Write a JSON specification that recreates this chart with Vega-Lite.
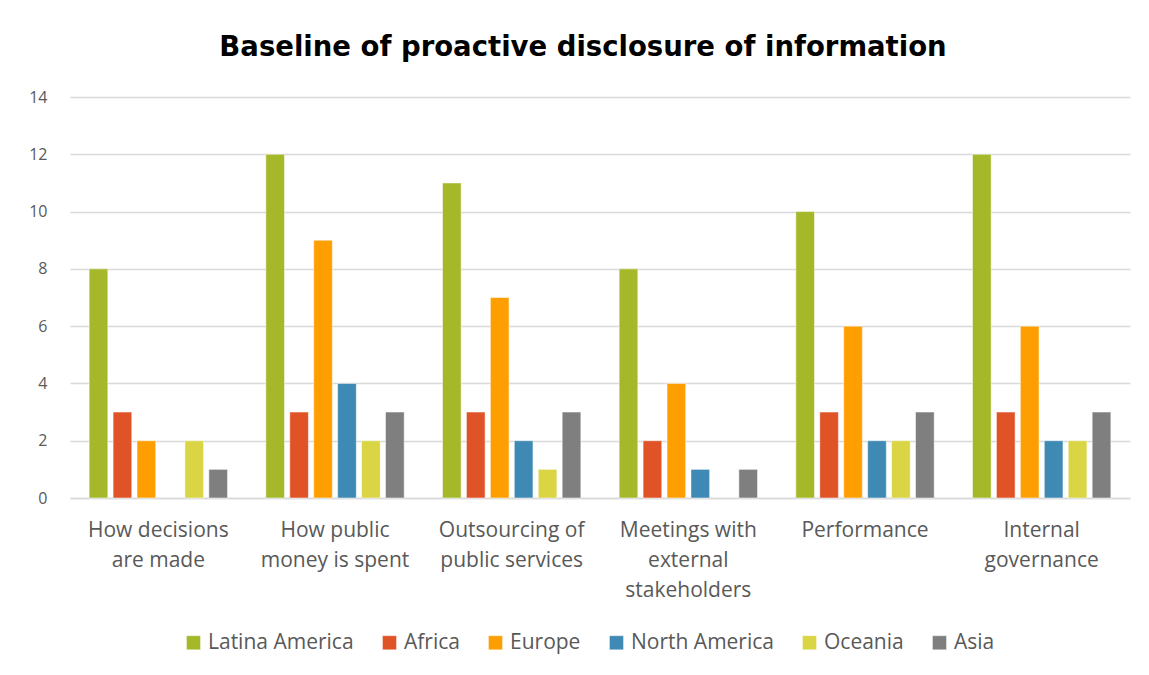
{
  "$schema": "https://vega.github.io/schema/vega-lite/v6.json",
  "autosize": "none",
  "width": 1060,
  "height": 401,
  "padding": {"left": 70, "top": 97, "right": 19, "bottom": 177},
  "background": "white",
  "title": {
    "text": "Baseline of proactive disclosure of information",
    "font": "DejaVu Sans",
    "fontWeight": "bold",
    "fontSize": 27.5,
    "color": "#000000",
    "anchor": "middle",
    "dx": -17,
    "offset": 28
  },
  "data": {
    "values": [
      {"category": "How decisions are made", "region": "Latina America", "value": 8},
      {"category": "How decisions are made", "region": "Africa", "value": 3},
      {"category": "How decisions are made", "region": "Europe", "value": 2},
      {"category": "How decisions are made", "region": "Oceania", "value": 2},
      {"category": "How decisions are made", "region": "Asia", "value": 1},
      {"category": "How public money is spent", "region": "Latina America", "value": 12},
      {"category": "How public money is spent", "region": "Africa", "value": 3},
      {"category": "How public money is spent", "region": "Europe", "value": 9},
      {"category": "How public money is spent", "region": "North America", "value": 4},
      {"category": "How public money is spent", "region": "Oceania", "value": 2},
      {"category": "How public money is spent", "region": "Asia", "value": 3},
      {"category": "Outsourcing of public services", "region": "Latina America", "value": 11},
      {"category": "Outsourcing of public services", "region": "Africa", "value": 3},
      {"category": "Outsourcing of public services", "region": "Europe", "value": 7},
      {"category": "Outsourcing of public services", "region": "North America", "value": 2},
      {"category": "Outsourcing of public services", "region": "Oceania", "value": 1},
      {"category": "Outsourcing of public services", "region": "Asia", "value": 3},
      {"category": "Meetings with external stakeholders", "region": "Latina America", "value": 8},
      {"category": "Meetings with external stakeholders", "region": "Africa", "value": 2},
      {"category": "Meetings with external stakeholders", "region": "Europe", "value": 4},
      {"category": "Meetings with external stakeholders", "region": "North America", "value": 1},
      {"category": "Meetings with external stakeholders", "region": "Asia", "value": 1},
      {"category": "Performance", "region": "Latina America", "value": 10},
      {"category": "Performance", "region": "Africa", "value": 3},
      {"category": "Performance", "region": "Europe", "value": 6},
      {"category": "Performance", "region": "North America", "value": 2},
      {"category": "Performance", "region": "Oceania", "value": 2},
      {"category": "Performance", "region": "Asia", "value": 3},
      {"category": "Internal governance", "region": "Latina America", "value": 12},
      {"category": "Internal governance", "region": "Africa", "value": 3},
      {"category": "Internal governance", "region": "Europe", "value": 6},
      {"category": "Internal governance", "region": "North America", "value": 2},
      {"category": "Internal governance", "region": "Oceania", "value": 2},
      {"category": "Internal governance", "region": "Asia", "value": 3}
    ]
  },
  "mark": {"type": "bar"},
  "encoding": {
    "x": {
      "field": "category",
      "type": "nominal",
      "sort": ["How decisions are made", "How public money is spent", "Outsourcing of public services", "Meetings with external stakeholders", "Performance", "Internal governance"],
      "scale": {"paddingInner": 0, "paddingOuter": 0},
      "axis": {
        "title": null,
        "labelAngle": 0,
        "domain": true,
        "domainColor": "#D9D9D9",
        "domainWidth": 1.5,
        "ticks": false,
        "labelFont": "Open Sans",
        "labelFontSize": 21,
        "labelColor": "#595959",
        "labelPadding": 21,
        "labelLineHeight": 30,
        "labelBaseline": "top",
        "labelExpr": "datum.value == 'How decisions are made' ? ['How decisions', 'are made'] : datum.value == 'How public money is spent' ? ['How public', 'money is spent'] : datum.value == 'Outsourcing of public services' ? ['Outsourcing of', 'public services'] : datum.value == 'Meetings with external stakeholders' ? ['Meetings with', 'external', 'stakeholders'] : datum.value == 'Internal governance' ? ['Internal', 'governance'] : datum.value"
      }
    },
    "xOffset": {
      "field": "region",
      "type": "nominal",
      "sort": ["Latina America", "Africa", "Europe", "North America", "Oceania", "Asia"],
      "scale": {"domain": ["Latina America", "Africa", "Europe", "North America", "Oceania", "Asia"], "paddingInner": 0.22, "paddingOuter": 0.8}
    },
    "y": {
      "field": "value",
      "type": "quantitative",
      "scale": {"domain": [0, 14], "nice": false},
      "axis": {
        "title": null,
        "values": [0, 2, 4, 6, 8, 10, 12, 14],
        "domain": false,
        "ticks": false,
        "grid": true,
        "gridColor": "#D9D9D9",
        "gridWidth": 1.5,
        "labelFont": "Open Sans",
        "labelFontSize": 16,
        "labelColor": "#595959",
        "labelPadding": 23
      }
    },
    "color": {
      "field": "region",
      "type": "nominal",
      "scale": {
        "domain": ["Latina America", "Africa", "Europe", "North America", "Oceania", "Asia"],
        "range": ["#A5B82A", "#E05327", "#FF9E00", "#3E8AB5", "#D9D544", "#7F7F7F"]
      },
      "legend": {
        "title": null,
        "orient": "none",
        "legendX": 113,
        "legendY": 535,
        "direction": "horizontal",
        "symbolType": "square",
        "symbolSize": 200,
        "symbolStrokeWidth": 0,
        "labelFont": "Open Sans",
        "labelFontSize": 21,
        "labelColor": "#595959",
        "columnPadding": 25
      }
    }
  },
  "config": {
    "view": {"stroke": null},
    "bar": {"stroke": "white", "strokeWidth": 0.5}
  }
}
